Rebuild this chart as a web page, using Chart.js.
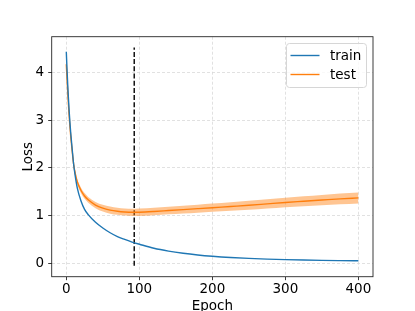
<!DOCTYPE html>
<html><head><meta charset="utf-8">
<script src="https://cdn.jsdelivr.net/npm/chart.js@4.4.1/dist/chart.umd.min.js"></script>
<style>html,body{margin:0;padding:0;background:#fff;} #wrap{width:415px;height:311px;}</style>
</head><body>
<div id="wrap"><canvas id="c" width="415" height="311"></canvas></div>
<script>
const epochs = [0,1,2,3,4,5,6,8,10,12,15,20,25,30,40,50,60,70,80,90,100,120,140,160,180,200,225,250,275,300,325,350,375,400];
const trainLoss = [4.43,4.05,3.72,3.43,3.17,2.94,2.74,2.40,2.08,1.85,1.58,1.31,1.13,1.02,0.86,0.74,0.64,0.56,0.50,0.445,0.40,0.315,0.255,0.21,0.175,0.148,0.122,0.103,0.089,0.078,0.069,0.062,0.057,0.053];
const testLoss = [4.17,3.86,3.57,3.31,3.07,2.86,2.67,2.36,2.08,1.90,1.71,1.53,1.41,1.33,1.22,1.155,1.115,1.09,1.075,1.068,1.07,1.085,1.105,1.125,1.145,1.165,1.19,1.215,1.245,1.275,1.30,1.325,1.35,1.37];
const testSpread = [0.04,0.04,0.045,0.045,0.05,0.05,0.05,0.05,0.05,0.055,0.055,0.06,0.06,0.06,0.065,0.07,0.075,0.075,0.075,0.075,0.078,0.08,0.08,0.082,0.084,0.086,0.09,0.093,0.097,0.1,0.104,0.108,0.112,0.115];
const xTicks = [0,100,200,300,400];
const yTicks = [0,1,2,3,4];
const bestEpoch = [93, 93];
const bestLineY = [-0.05, 4.52];
const seriesNames = ['train','test'];
const xTitle = 'Epoch';
const yTitle = 'Loss';

const BLUE = '#1f77b4', ORANGE = '#ff7f0e';
const FONT = {family: '"DejaVu Sans", sans-serif', size: 13.5};
const pts = (xs, ys) => xs.map((x, i) => ({x: x, y: ys[i]}));

const legendPlugin = {
  id: 'mplframe',
  afterDatasetsDraw(chart) {
    const {ctx, chartArea: {left, top, right, bottom}} = chart;
    ctx.save();
    ctx.strokeStyle = '#262626';
    ctx.lineWidth = 0.9;
    ctx.strokeRect(left, top, right - left, bottom - top);
    ctx.restore();
  },
  afterDraw(chart) {
    const ctx = chart.ctx;
    ctx.save();
    const bx = 286.5, by = 43.5, bw = 80, bh = 44, r = 3;
    ctx.beginPath();
    ctx.moveTo(bx + r, by);
    ctx.arcTo(bx + bw, by, bx + bw, by + bh, r);
    ctx.arcTo(bx + bw, by + bh, bx, by + bh, r);
    ctx.arcTo(bx, by + bh, bx, by, r);
    ctx.arcTo(bx, by, bx + bw, by, r);
    ctx.closePath();
    ctx.fillStyle = 'rgba(255,255,255,0.8)';
    ctx.fill();
    ctx.strokeStyle = '#d6d6d6';
    ctx.lineWidth = 1;
    ctx.stroke();
    const colors = [BLUE, ORANGE];
    const ys = [55.5, 74.5];
    ctx.font = '13.5px "DejaVu Sans", sans-serif';
    ctx.textBaseline = 'alphabetic';
    ctx.textAlign = 'left';
    seriesNames.forEach((n, i) => {
      ctx.beginPath();
      ctx.strokeStyle = colors[i];
      ctx.lineWidth = 1.4;
      ctx.moveTo(290.5, ys[i]);
      ctx.lineTo(319.5, ys[i]);
      ctx.stroke();
      ctx.fillStyle = '#000';
      ctx.fillText(n, 330, ys[i] + 4.8);
    });
    ctx.restore();
  }
};

new Chart(document.getElementById('c'), {
  type: 'line',
  data: {
    datasets: [
      {label: seriesNames[0], data: pts(epochs, trainLoss), borderColor: BLUE, borderWidth: 1.4, pointRadius: 0, cubicInterpolationMode: 'monotone', fill: false},
      {label: 'low', data: pts(epochs, testLoss.map((v, i) => v - testSpread[i])), borderWidth: 0, borderColor: 'rgba(0,0,0,0)', pointRadius: 0, cubicInterpolationMode: 'monotone', fill: false},
      {label: 'high', data: pts(epochs, testLoss.map((v, i) => v + testSpread[i])), borderWidth: 0, borderColor: 'rgba(0,0,0,0)', pointRadius: 0, cubicInterpolationMode: 'monotone', fill: '-1', backgroundColor: 'rgba(255,127,14,0.45)'},
      {label: seriesNames[1], data: pts(epochs, testLoss), borderColor: ORANGE, borderWidth: 1.4, pointRadius: 0, cubicInterpolationMode: 'monotone', fill: false},
      {label: 'best', data: pts(bestEpoch, bestLineY), borderColor: '#000', borderWidth: 1.4, borderDash: [5, 2.2], pointRadius: 0, fill: false}
    ]
  },
  options: {
    responsive: false,
    devicePixelRatio: 1,
    animation: false,
    events: [],
    layout: {padding: {left: 0, right: 42, top: 36.7, bottom: 0}},
    plugins: {legend: {display: false}, tooltip: {enabled: false}},
    scales: {
      x: {
        type: 'linear', min: -20, max: 420,
        afterBuildTicks: s => { s.ticks = xTicks.map(v => ({value: v})); },
        afterFit: s => { s.height = 34.3; },
        ticks: {font: FONT, color: '#000', padding: 1, maxRotation: 0, autoSkip: false},
        grid: {color: '#d9d9d9', lineWidth: 0.8, tickLength: 3.5, tickColor: '#262626', tickWidth: 0.9, tickBorderDash: []},
        border: {display: false, dash: [3, 2]},
        title: {display: true, text: xTitle, color: '#000', font: Object.assign({}, FONT, {lineHeight: 0.7}), padding: 0}
      },
      y: {
        type: 'linear', min: -0.28, max: 4.745,
        afterBuildTicks: s => { s.ticks = yTicks.map(v => ({value: v})); },
        afterFit: s => { s.width = 51.7; },
        ticks: {font: FONT, color: '#000', padding: 4},
        grid: {color: '#d9d9d9', lineWidth: 0.8, tickLength: 3.5, tickColor: '#262626', tickWidth: 0.9, tickBorderDash: []},
        border: {display: false, dash: [3, 2]},
        title: {display: true, text: yTitle, color: '#000', font: FONT, padding: {top: 20.2, bottom: 0}}
      }
    }
  },
  plugins: [legendPlugin]
});
</script>
</body></html>
